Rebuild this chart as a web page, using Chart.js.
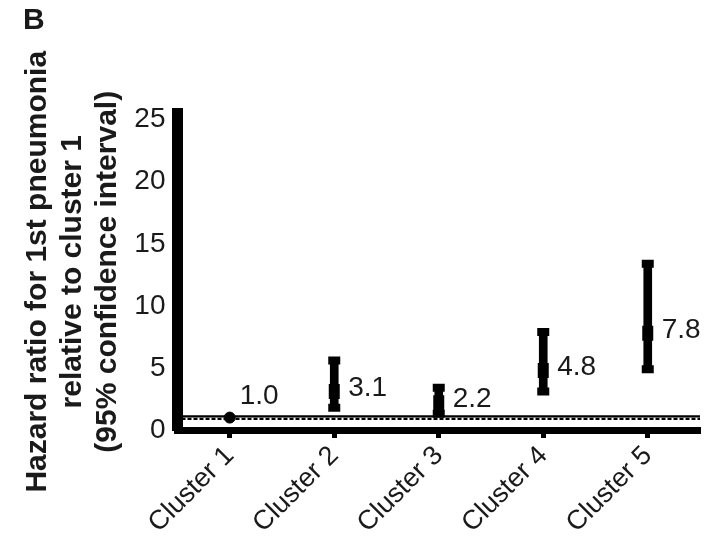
<!DOCTYPE html>
<html>
<head>
<meta charset="utf-8">
<script src="https://cdn.jsdelivr.net/npm/chart.js@4.4.0/dist/chart.umd.min.js"></script>
<style>
  html, body { margin: 0; padding: 0; background: #fff; }
  canvas { display: block; }
</style>
</head>
<body>
<canvas id="chart" width="711" height="545"></canvas>
<script>
// ------ DATA ------
const CLUSTERS = ["Cluster 1", "Cluster 2", "Cluster 3", "Cluster 4", "Cluster 5"];
const HAZARD   = [1.0, 3.1, 2.2, 4.8, 7.8];
const CI_LOW   = [null, 1.8, 1.3, 3.1, 4.9];
const CI_HIGH  = [null, 5.6, 3.4, 7.9, 13.4];
const Y_TICKS  = [0, 5, 10, 15, 20, 25];
const REF_VALUE = 1;
const Y_TITLE = ["Hazard ratio for 1st pneumonia", "relative to cluster 1", "(95% confidence interval)"];
const PANEL = "B";

const FONT = "'Liberation Sans', Arial, Helvetica, sans-serif";
const INK = "#1a1a1a";

// dotted reference line at HR = 1 (thin solid line over a dashed one)
const refLine = {
  id: 'refLine',
  beforeDatasetsDraw(chart){
    const {ctx, chartArea:a, scales:{y}} = chart;
    const py = y.getPixelForValue(REF_VALUE);
    ctx.save();
    ctx.strokeStyle = '#000';
    ctx.lineWidth = 2.2;
    ctx.beginPath(); ctx.moveTo(a.left + 4, py - 1.2); ctx.lineTo(a.right, py - 1.2); ctx.stroke();
    ctx.setLineDash([4,2]);
    ctx.beginPath(); ctx.moveTo(a.left + 4, py + 1.2); ctx.lineTo(a.right, py + 1.2); ctx.stroke();
    ctx.restore();
  }
};

// numeric labels next to each estimate
const valueLabels = {
  id: 'valueLabels',
  afterDatasetsDraw(chart){
    const {ctx, scales:{x, y}} = chart;
    ctx.save();
    ctx.font = "28px " + FONT;
    ctx.fillStyle = INK;
    ctx.textAlign = 'left';
    ctx.textBaseline = 'middle';
    HAZARD.forEach((v,i)=>{
      const px = x.getPixelForValue(i), py = y.getPixelForValue(v);
      if(CI_LOW[i] == null) ctx.fillText(v.toFixed(1), px + 10, py - 21);
      else ctx.fillText(v.toFixed(1), px + 14, py - 3);
    });
    ctx.restore();
  }
};

// panel letter in the corner
const panelLabel = {
  id: 'panelLabel',
  afterDraw(chart){
    const ctx = chart.ctx;
    ctx.save();
    ctx.font = "bold 30px " + FONT;
    ctx.fillStyle = INK;
    ctx.textAlign = 'left';
    ctx.textBaseline = 'middle';
    ctx.fillText(PANEL, 23, 21);
    ctx.restore();
  }
};

const noCI = ctx => CI_LOW[ctx.dataIndex] == null;

new Chart(document.getElementById('chart'), {
  type: 'bar',
  data: {
    labels: CLUSTERS,
    datasets: [
      { // point estimates
        type: 'line', data: HAZARD, showLine: false,
        pointStyle: c => noCI(c) ? 'circle' : 'line',
        pointRadius: c => noCI(c) ? 5.5 : 7.5,
        pointBorderWidth: c => noCI(c) ? 1 : 11,
        pointRotation: 90,
        pointBackgroundColor: '#000', pointBorderColor: '#000'
      },
      { // lower caps
        type: 'line', data: CI_LOW, showLine: false,
        pointStyle: 'line', pointRadius: 6, pointBorderWidth: 8,
        pointBackgroundColor: '#000', pointBorderColor: '#000'
      },
      { // upper caps
        type: 'line', data: CI_HIGH, showLine: false,
        pointStyle: 'line', pointRadius: 6, pointBorderWidth: 8,
        pointBackgroundColor: '#000', pointBorderColor: '#000'
      },
      { // confidence intervals
        type: 'bar',
        data: CLUSTERS.map((_,i)=> CI_LOW[i] == null ? null : [CI_LOW[i], CI_HIGH[i]]),
        backgroundColor: '#000', barThickness: 8, borderSkipped: false
      }
    ]
  },
  options: {
    responsive: false,
    animation: false,
    events: [],
    layout: { autoPadding: false, padding: { top: 113.5, right: 11, left: 0, bottom: 0 } },
    plugins: { legend: { display: false }, tooltip: { enabled: false } },
    scales: {
      x: {
        type: 'category', offset: true,
        grid: { display: true, drawOnChartArea: false, offset: false, tickLength: 8, tickWidth: 5, tickColor: '#000' },
        border: { display: true, width: 7, color: '#000' },
        ticks: { font: { family: FONT, size: 27 }, color: INK, maxRotation: 45, minRotation: 45, padding: 2 },
        afterFit: s => { s.height = 115; }
      },
      y: {
        min: 0, max: 25.5,
        afterBuildTicks: s => { s.ticks = Y_TICKS.map(v => ({value: v})); },
        grid: { drawOnChartArea: false, drawTicks: false },
        border: { display: true, width: 11, color: '#000' },
        ticks: { font: { family: FONT, size: 28 }, color: INK, padding: 12 },
        title: {
          display: true, text: Y_TITLE, color: INK,
          font: { family: FONT, size: 30, weight: 'bold', lineHeight: '35px' },
          padding: { top: 20, bottom: 0 }
        },
        afterFit: s => { s.width = 177.5; }
      }
    }
  },
  plugins: [refLine, valueLabels, panelLabel]
});
</script>
</body>
</html>
